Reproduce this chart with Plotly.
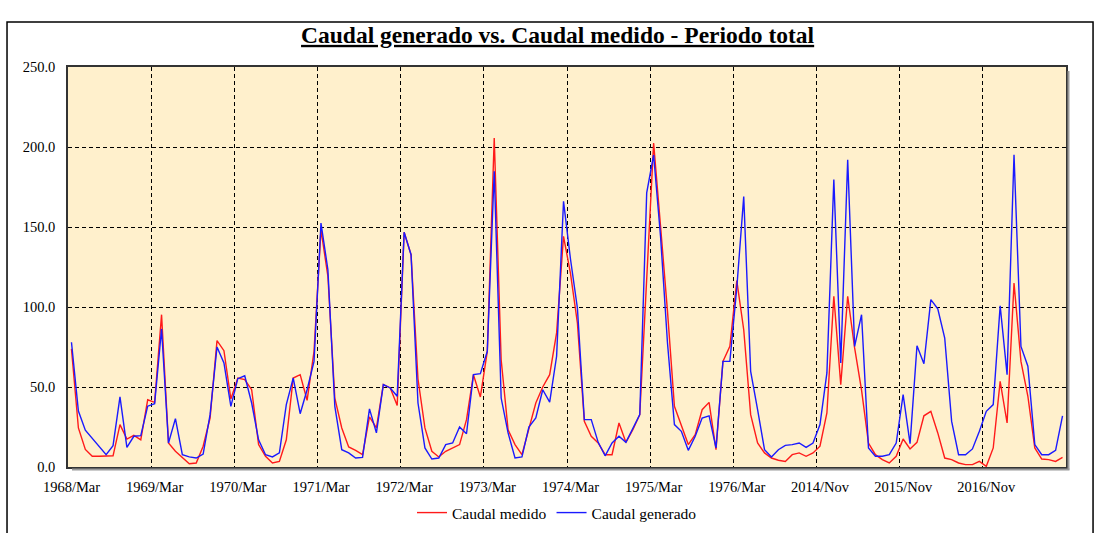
import plotly.graph_objects as go

# Spanish month abbreviations used in the category labels
MESES = ["Ene", "Feb", "Mar", "Abr", "May", "Jun",
         "Jul", "Ago", "Sep", "Oct", "Nov", "Dic"]


def etiquetas_mensuales(anio, mes, n):
    """Consecutive 'YYYY/Mmm' labels starting at (anio, mes index)."""
    out = []
    for _ in range(n):
        out.append(f"{anio}/{MESES[mes]}")
        mes += 1
        if mes == 12:
            mes = 0
            anio += 1
    return out


# Two observation windows: Mar 1968 - Feb 1977 and Nov 2014 - Oct 2017
categorias = etiquetas_mensuales(1968, 2, 108) + etiquetas_mensuales(2014, 10, 36)

caudal_medido = [
    73.8, 24.4, 11.0, 6.7, 6.7, 6.7, 7.0, 26.5, 17.5, 19.8, 17.0, 42.0,
    40.4, 95.2, 15.0, 9.8, 5.6, 2.0, 2.5, 13.0, 30.6, 79.0, 72.7, 42.5,
    55.6, 54.6, 48.3, 14.0, 6.7, 2.5, 3.5, 17.0, 55.6, 57.7, 41.7, 72.3,
    148.3, 119.2, 43.1, 24.4, 12.5, 10.4, 7.7, 31.3, 24.4, 51.5, 49.4, 38.5,
    146.7, 132.7, 55.0, 24.4, 9.8, 6.3, 9.8, 11.9, 14.0, 29.6, 57.7, 43.8,
    72.3, 205.6, 67.0, 23.3, 14.0, 7.7, 23.0, 40.0, 50.0, 57.7, 83.8, 144.2,
    121.0, 90.0, 28.5, 19.2, 15.0, 7.7, 7.7, 27.5, 15.4, 23.3, 32.7, 119.0,
    202.5, 150.4, 97.3, 37.9, 26.5, 14.0, 20.2, 35.8, 40.4, 10.8, 66.0, 75.4,
    116.5, 85.8, 32.7, 15.0, 8.8, 5.6, 4.2, 3.5, 7.7, 8.8, 6.7, 8.8,
    13.0, 33.8, 106.7, 51.5, 106.7, 74.4, 48.0, 15.0, 7.7, 4.6, 2.5, 6.7,
    17.5, 11.3, 15.4, 32.0, 34.8, 21.3, 5.6, 4.6, 2.5, 1.5, 1.5, 3.5,
    0.4, 11.9, 53.5, 27.5, 115.0, 66.0, 44.2, 11.9, 5.0, 4.6, 3.5, 6.0,
]

caudal_generado = [
    78.0, 35.0, 23.0, 18.0, 12.5, 7.7, 13.3, 43.8, 12.3, 19.2, 19.6, 38.0,
    39.6, 86.3, 15.0, 30.2, 7.7, 6.3, 5.6, 8.1, 32.7, 75.0, 65.0, 37.9,
    55.2, 57.0, 40.0, 17.0, 7.7, 6.3, 8.8, 39.0, 55.6, 33.3, 48.3, 66.0,
    152.5, 123.3, 37.9, 10.8, 8.8, 5.6, 6.0, 36.3, 21.3, 51.5, 49.4, 44.2,
    146.7, 132.7, 40.0, 11.9, 5.0, 5.6, 14.0, 15.0, 25.0, 20.8, 57.7, 58.3,
    72.3, 184.8, 43.1, 21.3, 5.6, 6.3, 25.0, 30.6, 48.3, 40.6, 69.2, 166.0,
    130.0, 99.4, 29.6, 29.6, 15.4, 7.0, 15.0, 19.2, 15.4, 24.4, 32.7, 171.3,
    195.0, 144.0, 77.5, 26.5, 22.3, 10.4, 19.2, 30.6, 32.0, 11.9, 66.0, 66.0,
    112.0, 169.0, 59.8, 35.8, 10.8, 6.3, 10.8, 13.5, 14.0, 15.0, 12.3, 15.0,
    26.5, 58.8, 179.6, 65.0, 192.0, 75.4, 95.2, 11.9, 6.7, 6.7, 7.7, 15.0,
    45.2, 14.6, 75.8, 64.6, 104.6, 98.8, 80.6, 28.5, 7.7, 7.7, 11.3, 22.3,
    34.8, 39.0, 100.8, 57.7, 195.2, 75.4, 63.0, 14.0, 7.7, 7.7, 10.4, 32.0,
]

FUENTE = "Liberation Serif"

fig = go.Figure()
fig.add_trace(go.Scatter(
    x=categorias, y=caudal_medido, mode="lines", name="Caudal medido",
    line=dict(color="#FF1A1A", width=1.4),
))
fig.add_trace(go.Scatter(
    x=categorias, y=caudal_generado, mode="lines", name="Caudal generado",
    line=dict(color="#1A1AFF", width=1.4),
))

# Outer chart frame and the soft drop shadow of the plot area
marco = [
    dict(type="rect", xref="paper", yref="paper",
         x0=-0.0611, x1=1.0271, y0=-0.25, y1=1.1125,
         line=dict(color="#000000", width=1.5), fillcolor="rgba(0,0,0,0)"),
    dict(type="line", xref="paper", yref="paper",
         x0=1.0025, x1=1.0025, y0=-0.006, y1=0.99,
         line=dict(color="#9a9a9a", width=2)),
    dict(type="line", xref="paper", yref="paper",
         x0=0.004, x1=1.0035, y0=-0.006, y1=-0.006,
         line=dict(color="#9a9a9a", width=2)),
]

fig.update_layout(
    width=1102, height=533,
    margin=dict(l=68, r=36, t=67, b=66, autoexpand=False),
    paper_bgcolor="#FFFFFF",
    plot_bgcolor="#FFF0CC",
    font=dict(family=FUENTE, color="#000000", size=14),
    title=dict(
        text="<b><u>Caudal generado vs. Caudal medido - Periodo total</u></b>",
        x=0.506, xref="container", xanchor="center",
        y=0.935, yref="container", yanchor="middle",
        font=dict(family=FUENTE, size=23.5, color="#000000"),
    ),
    showlegend=True,
    legend=dict(
        orientation="h", x=0.49, xanchor="center", y=-0.115, yanchor="middle",
        font=dict(family=FUENTE, size=15.5), bgcolor="rgba(0,0,0,0)",
        itemwidth=30, tracegroupgap=0,
    ),
    shapes=marco,
)

fig.update_xaxes(
    type="category", range=[-0.5, len(categorias) - 0.5],
    tickson="boundaries", tick0=0, dtick=12, ticks="",
    showgrid=True, gridcolor="#000000", gridwidth=1, griddash="4px,3px",
    showline=True, mirror=True, linecolor="#333333", linewidth=1.5,
    tickfont=dict(family=FUENTE, size=14.5), tickangle=0, zeroline=False,
    ticklabelstandoff=6, automargin=False,
)
fig.update_yaxes(
    range=[0, 250], dtick=50, tickformat=".1f", ticks="",
    showgrid=True, gridcolor="#000000", gridwidth=1, griddash="4px,3px",
    showline=True, mirror=True, linecolor="#333333", linewidth=1.5,
    tickfont=dict(family=FUENTE, size=14.5), ticklabelstandoff=8, zeroline=False,
    automargin=False,
)

fig.write_html("out.html")
